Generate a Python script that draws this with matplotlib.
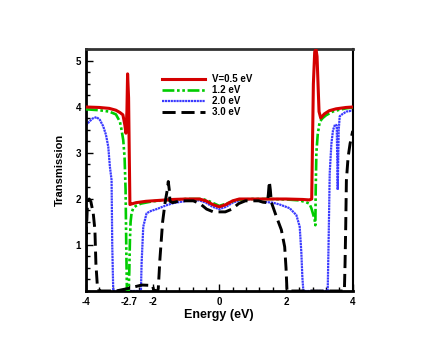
import numpy as np
import matplotlib.pyplot as plt
from matplotlib.ticker import MultipleLocator, FixedLocator

plt.rcParams['font.family'] = ['Liberation Sans', 'DejaVu Sans']
plt.rcParams['font.weight'] = 'bold'

# V = 0.5 eV
e_05 = [-4.0, -3.6, -3.3, -3.1, -2.98, -2.89, -2.83, -2.8, -2.77, -2.75, -2.72, -2.7, -2.68,
        -2.64, -2.5, -2.2, -1.8, -1.4, -1.0, -0.6, -0.4, -0.2, 0.0, 0.2, 0.4, 0.6, 1.0,
        1.5, 2.0, 2.5, 2.7, 2.77, 2.79, 2.82, 2.86, 2.9, 2.93, 2.96, 2.99, 3.04, 3.15,
        3.3, 3.5, 3.8, 4.0]
t_05 = [4.0, 3.99, 3.97, 3.93, 3.88, 3.83, 3.6, 3.43, 3.9, 4.72, 4.2, 3.0, 1.88,
        1.89, 1.92, 1.95, 1.97, 1.99, 2.0, 2.0, 1.96, 1.88, 1.83, 1.88, 1.96, 2.0, 2.0,
        2.0, 2.0, 1.99, 1.98, 2.0, 3.0, 4.5, 5.2, 5.25, 5.1, 4.5, 3.9, 3.76, 3.85,
        3.92, 3.96, 3.99, 4.0]

# 1.2 eV
e_12 = [-4.0, -3.6, -3.3, -3.1, -2.98, -2.93, -2.88, -2.84, -2.81, -2.79, -2.77, -2.72,
        -2.7, -2.68, -2.66, -2.63, -2.58, -2.5, -2.35, -2.0, -1.5, -1.0, -0.5, -0.3,
        0.0, 0.3, 0.5, 1.0, 1.5, 2.0, 2.4, 2.6, 2.7, 2.76, 2.82, 2.86, 2.88, 2.89,
        2.91, 2.95, 3.01, 3.1, 3.2, 3.4, 3.6, 3.8, 4.0]
t_12 = [3.95, 3.93, 3.9, 3.84, 3.68, 3.5, 3.28, 2.9, 2.2, 1.0, 0.0, 0.0,
        0.4, 1.1, 1.5, 1.7, 1.8, 1.85, 1.9, 1.95, 1.98, 2.0, 2.0, 1.95,
        1.85, 1.92, 1.98, 2.0, 2.0, 1.99, 1.97, 1.93, 1.9, 1.8, 1.65, 1.54, 1.43, 2.2,
        3.0, 3.4, 3.68, 3.76, 3.82, 3.9, 3.94, 3.97, 3.99]

# 2.0 eV
e_20 = [-4.0, -3.9, -3.8, -3.68, -3.58, -3.48, -3.4, -3.33, -3.28, -3.23, -3.21, -3.18,
        -2.8, -2.35, -2.33, -2.28, -2.18, -2.05, -1.88, -1.6, -1.38, -0.98, -0.6, -0.4,
        -0.2, 0.0, 0.2, 0.4, 0.6, 1.0, 1.31, 1.6, 1.81, 2.11, 2.31, 2.41, 2.46, 2.49,
        2.52, 3.0, 3.25, 3.28, 3.31, 3.36, 3.41, 3.47, 3.52, 3.55, 3.58, 3.61, 3.7,
        3.81, 3.9, 4.0]
t_20 = [3.6, 3.68, 3.75, 3.78, 3.72, 3.58, 3.4, 3.14, 2.7, 2.41, 1.0, 0.0,
        0.0, 0.0, 0.6, 1.4, 1.69, 1.74, 1.78, 1.86, 1.91, 1.96, 1.97, 1.92,
        1.83, 1.78, 1.83, 1.92, 1.97, 2.0, 1.94, 1.92, 1.88, 1.8, 1.65, 1.4, 0.83, 0.3,
        0.0, 0.0, 0.0, 1.2, 2.56, 3.2, 3.5, 3.62, 3.6, 2.2, 3.5, 3.8, 3.85,
        3.9, 3.91, 3.93]

# 3.0 eV
e_30 = [-4.0, -3.98, -3.95, -3.9, -3.85, -3.78, -3.73, -3.7, -3.66, -3.62, -3.55,
        -3.1, -2.7, -2.33, -2.0, -1.97, -1.85, -1.83, -1.78, -1.7, -1.63, -1.56, -1.53,
        -1.5, -1.48, -1.4, -1.18, -0.78, -0.58, -0.38, -0.18, 0.0, 0.18, 0.38, 0.58,
        0.78, 1.18, 1.31, 1.44, 1.47, 1.5, 1.53, 1.56, 1.71, 1.86, 1.96, 2.0, 2.03,
        3.0, 3.75, 3.77, 3.79, 3.81, 3.86, 3.92, 4.0]
t_30 = [0.7, 1.4, 1.95, 2.0, 1.94, 1.69, 1.33, 0.6, 0.15, 0.03, 0.0,
        0.0, 0.06, 0.13, 0.12, 0.02, 0.0, 0.05, 0.7, 1.5, 1.9, 2.2, 2.38,
        2.2, 1.95, 1.92, 1.96, 1.96, 1.9, 1.78, 1.72, 1.72, 1.72, 1.78, 1.9,
        1.96, 1.96, 1.93, 1.92, 2.1, 2.38, 2.2, 1.93, 1.62, 1.33, 0.96, 0.5, 0.0,
        0.0, 0.0, 0.6, 1.4, 2.4, 2.9, 3.2, 3.48]

labels = ['V=0.5 eV', '1.2 eV', '2.0 eV', '3.0 eV']
xticks = [-4, -2.7, -2, 0, 2, 4]
xticklabels = ['-4', '-2.7', '-2', '0', '2', '4']
yticks = [1, 2, 3, 4, 5]

fig = plt.figure(figsize=(4.36, 3.37), dpi=100)
ax = fig.add_axes([0.197, 0.1365, 0.612, 0.718])

ax.plot(e_05, t_05, color='#d40000', lw=2.2, label=labels[0], zorder=4)
ax.plot(e_12, t_12, color='#00cc00', lw=1.9, ls=(0, (4.5, 1, 1, 1, 1, 1)), label=labels[1], zorder=3)
ax.plot(e_20, t_20, color='#3a3aff', lw=1.6, ls=(0, (1, 0.3)), label=labels[2], zorder=2)
ax.plot(e_30, t_30, color='black', lw=2.1, ls=(0, (4.5, 2)), label=labels[3], zorder=5)

ax.set_xlim(-4, 4)
ax.set_ylim(0, 5.26)
ax.xaxis.set_major_locator(FixedLocator(xticks))
ax.set_xticklabels(xticklabels)
ax.xaxis.set_minor_locator(FixedLocator([-3.6, -3.2, -2.8, -2.4, -1.6, -1.2, -0.8, -0.4,
                                         0.4, 0.8, 1.2, 1.6, 2.4, 2.8, 3.2, 3.6]))
ax.yaxis.set_major_locator(FixedLocator(yticks))
ax.yaxis.set_minor_locator(MultipleLocator(0.25))
ax.tick_params(which='both', direction='in', top=False, right=False, labelsize=7, width=1)
ax.tick_params(which='major', length=5)
ax.tick_params(which='minor', length=3)
ax.tick_params(axis='x', pad=4)

for s in ['left', 'bottom']:
    ax.spines[s].set_linewidth(2)
ax.spines['top'].set_linewidth(2)
ax.spines['top'].set_color('#333333')
ax.spines['right'].set_linewidth(1.5)

ax.set_xlabel('Energy (eV)', fontsize=9, fontweight='bold', labelpad=2)
ax.set_ylabel('Transmission', fontsize=8, fontweight='bold', labelpad=8)

ax.legend(loc='upper left', bbox_to_anchor=(0.266, 0.915), frameon=False,
          handlelength=4.4, handletextpad=0.8, labelspacing=0.1, borderpad=0,
          prop={'weight': 'bold', 'size': 7})

plt.savefig('out.png', dpi=100)
plt.close()
